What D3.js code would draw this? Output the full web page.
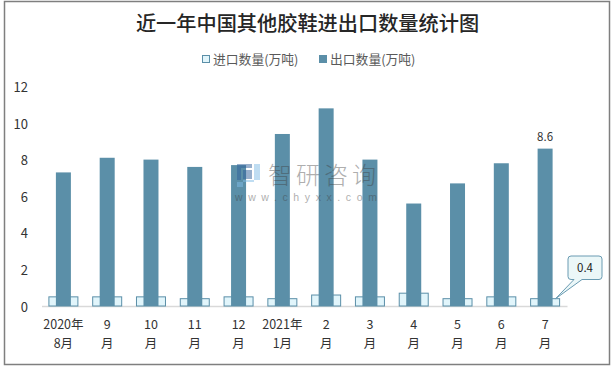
<!DOCTYPE html>
<html>
<head>
<meta charset="utf-8">
<script src="https://cdn.jsdelivr.net/npm/d3@7"></script>
<style>
html, body { margin: 0; padding: 0; background: #fff; }
svg { display: block; }
</style>
</head>
<body>
<div id="chart"></div>
<script>
var months = [
	["2020年", "8月"], ["9", "月"], ["10", "月"], ["11", "月"], ["12", "月"], ["2021年", "1月"],
	["2", "月"], ["3", "月"], ["4", "月"], ["5", "月"], ["6", "月"], ["7", "月"]
];
var import_values = [0.5, 0.5, 0.5, 0.4, 0.5, 0.4, 0.6, 0.5, 0.7, 0.4, 0.5, 0.4];
var export_values = [7.3, 8.1, 8.0, 7.6, 7.7, 9.4, 10.8, 8.0, 5.6, 6.7, 7.8, 8.6];
var y_ticks = [0, 2, 4, 6, 8, 10, 12];
var import_name = "进口数量(万吨)";
var export_name = "出口数量(万吨)";
var chart_title = "近一年中国其他胶鞋进出口数量统计图";

var chart_width = 612,
	chart_height = 366,
	font = "'Noto Sans CJK SC', 'Noto Sans', sans-serif";

var svg = d3.select("#chart")
	.append("svg")
	.attr("width", chart_width)
	.attr("height", chart_height);

// Frame
svg.append("rect")
	.attr("x", 4.5)
	.attr("y", 1.5)
	.attr("width", 605)
	.attr("height", 363)
	.attr("fill", "#fff")
	.attr("stroke", "#7f7f7f")
	.attr("stroke-width", 1.5);

// Title
svg.append("text")
	.attr("x", 307.5)
	.attr("y", 31)
	.attr("text-anchor", "middle")
	.attr("font-family", font)
	.attr("font-size", 20.2)
	.attr("font-weight", 500)
	.attr("fill", "#262626")
	.text(chart_title);

// Scales
var x_scale = d3.scaleBand()
	.domain(d3.range(months.length))
	.range([41.5, 567]);

var y_scale = d3.scaleLinear()
	.domain([0, 12])
	.range([306, 86.4]);

// Axes
var x_axis = d3.axisBottom(x_scale).tickSize(0).tickPadding(0).tickFormat("");
var y_axis = d3.axisLeft(y_scale).tickValues(y_ticks).tickSize(0).tickPadding(0);

var x_g = svg.append("g")
	.attr("class", "x-axis")
	.attr("transform", "translate(0," + y_scale(0) + ")")
	.call(x_axis);
x_g.select(".domain").attr("stroke", "#d9d9d9").attr("stroke-width", 1.5);

x_g.selectAll(".tick").each(function(d) {
	var t = d3.select(this);
	months[d].forEach(function(line, i) {
		t.append("text")
			.attr("y", 23 + i * 19)
			.attr("text-anchor", "middle")
			.attr("font-family", font)
			.attr("font-size", 12.5)
			.attr("fill", "#333")
			.text(line);
	});
});

var y_g = svg.append("g")
	.attr("class", "y-axis")
	.attr("transform", "translate(28,1)")
	.call(y_axis);
y_g.select(".domain").remove();
y_g.selectAll("text")
	.attr("font-family", font)
	.attr("font-size", 13)
	.attr("fill", "#333");

// Bars
var import_width = 29,
	export_width = 15;

svg.append("g").selectAll("rect")
	.data(import_values)
	.enter()
	.append("rect")
		.attr("x", function(d, i) {
			return x_scale(i) + (x_scale.bandwidth() - import_width) / 2;
		})
		.attr("y", function(d) {
			return y_scale(d);
		})
		.attr("width", import_width)
		.attr("height", function(d) {
			return y_scale(0) - y_scale(d);
		})
		.attr("fill", "#e1f5fb")
		.attr("stroke", "#5b8fa8")
		.attr("stroke-width", 1);

svg.append("g").selectAll("rect")
	.data(export_values)
	.enter()
	.append("rect")
		.attr("x", function(d, i) {
			return x_scale(i) + (x_scale.bandwidth() - export_width) / 2;
		})
		.attr("y", function(d) {
			return y_scale(d);
		})
		.attr("width", export_width)
		.attr("height", function(d) {
			return y_scale(0) - y_scale(d);
		})
		.attr("fill", "#5b8fa8");

// Label on the last export bar
var last = months.length - 1;
svg.append("text")
	.attr("x", x_scale(last) + x_scale.bandwidth() / 2)
	.attr("y", y_scale(export_values[last]) - 8)
	.attr("text-anchor", "middle")
	.attr("font-family", font)
	.attr("font-size", 11.5)
	.attr("fill", "#333")
	.text(export_values[last].toFixed(1));

// Callout on the last import bar
var tip_x = x_scale(last) + x_scale.bandwidth() / 2 + 10.5,
	tip_y = y_scale(import_values[last]);
svg.append("path")
	.attr("d", "M" + tip_x + "," + tip_y +
		"L574,279.5H571a3,3 0 0 1 -3,-3V259a3,3 0 0 1 3,-3H599a3,3 0 0 1 3,3V276.5a3,3 0 0 1 -3,3H582Z")
	.attr("fill", "#ebf7f8")
	.attr("stroke", "#6a9bb2")
	.attr("stroke-width", 1);
svg.append("text")
	.attr("x", 585)
	.attr("y", 272)
	.attr("text-anchor", "middle")
	.attr("font-family", font)
	.attr("font-size", 11.5)
	.attr("fill", "#222")
	.text(import_values[last].toFixed(1));

// Legend
var legend = svg.append("g");
legend.append("rect")
	.attr("x", 202.5).attr("y", 55.5).attr("width", 7).attr("height", 7)
	.attr("fill", "#e1f5fb").attr("stroke", "#5b8fa8");
legend.append("text")
	.attr("x", 213).attr("y", 63.5)
	.attr("font-family", font).attr("font-size", 12.8).attr("fill", "#595959")
	.text(import_name);
legend.append("rect")
	.attr("x", 319).attr("y", 55).attr("width", 8).attr("height", 8)
	.attr("fill", "#5b8fa8");
legend.append("text")
	.attr("x", 330).attr("y", 63.5)
	.attr("font-family", font).attr("font-size", 12.8).attr("fill", "#595959")
	.text(export_name);

// Watermark
var mark = svg.append("g");
mark.append("path")
	.attr("d", "M237,164H252V168H241V180H237ZM243,170H252V179H243Z")
	.attr("fill", "#2f5f9a")
	.attr("opacity", 0.5);
mark.append("path")
	.attr("d", "M254,164H260V180H243V187H237V182H254Z")
	.attr("fill", "#7fbce6")
	.attr("opacity", 0.5);
mark.append("text")
	.attr("x", 268).attr("y", 184)
	.attr("font-family", font).attr("font-size", 24).attr("letter-spacing", 4).attr("font-weight", 300)
	.attr("fill", "#404040").attr("opacity", 0.42)
	.text("智研咨询");
mark.append("text")
	.attr("x", 235).attr("y", 200.5)
	.attr("font-family", "'Liberation Sans', sans-serif").attr("font-size", 10.5).attr("letter-spacing", 5.6)
	.attr("fill", "#404040").attr("opacity", 0.42)
	.text("www.chyxx.com");
</script>
</body>
</html>
